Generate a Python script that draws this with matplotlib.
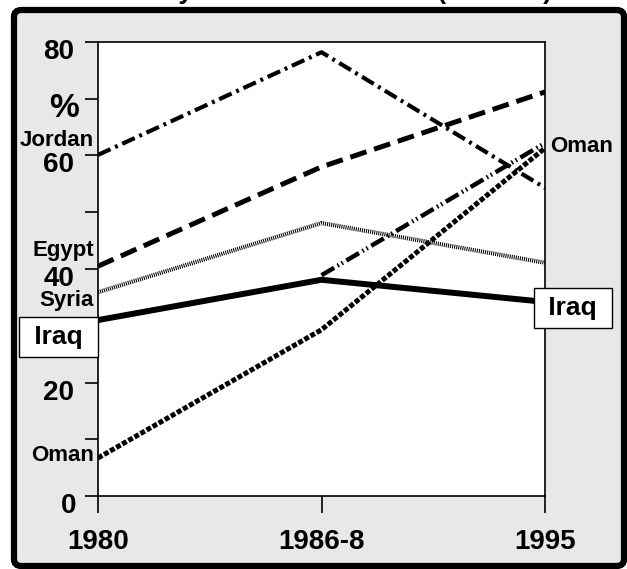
import matplotlib.pyplot as plt
import numpy as np
from matplotlib.patches import FancyBboxPatch
from matplotlib.transforms import offset_copy

plt.rcParams['font.family'] = ['Liberation Sans', 'DejaVu Sans']
plt.rcParams['font.weight'] = 'bold'

# Data (female secondary school enrollment, %)
periods = ['1980', '1986-8', '1995']
jordan = [60.1, 78.2, 54.3]
egypt = [40.5, 58.0, 71.2]
syria = [35.9, 48.1, 41.1]
iraq = [31.0, 38.1, 34.2]
oman = [6.7, 29.3, 61.3]
oman_b = [np.nan, 38.9, 62.2]
y_ticks = [0, 10, 20, 30, 40, 50, 60, 70, 80]
y_labels = {0: '0', 20: '20', 40: '40', 60: '60', 70: '%', 80: '80'}

fig = plt.figure(figsize=(6.27, 5.69), dpi=100)
fig.patch.set_facecolor('white')

# Grey rounded frame
W, H = 627, 569
frame = FancyBboxPatch((14 / W, 3 / H), 610 / W, 556 / H,
                       boxstyle='round,pad=0,rounding_size=0.012',
                       transform=fig.transFigure, facecolor='#e8e8e8',
                       edgecolor='black', linewidth=4.5, zorder=-10)
fig.patches.append(frame)

# Title, cut off at the top edge as in the original
fig.text(60 / W, 1.0 + 1 / H, 'Secondary School Enrollment (females) Gross',
         ha='left', va='baseline', fontsize=18.7, fontweight='bold')

ax = fig.add_axes([98 / W, 1 - 496 / H, 447 / W, 454 / H])
ax.set_facecolor('white')
x = np.arange(len(periods))

ax.plot(x, jordan, color='black', lw=3.0, linestyle=(0, (3.3, 1.2, 0.7, 1.2)))
ax.plot(x, egypt, color='black', lw=3.6, linestyle=(0, (3.4, 1.6)))
ax.plot(x, syria, color='black', lw=3.0, linestyle=(0, (0.25, 0.25)))
ax.plot(x, iraq, color='black', lw=4.3, solid_capstyle='butt')
ax.plot(x, oman, color='black', lw=3.6, linestyle=(0, (1.0, 0.4)))
ax.plot(x, oman_b, color='black', lw=3.2,
        linestyle=(0, (3.3, 0.9, 0.35, 0.7, 0.35, 0.9)))

ax.set_xlim(0, 2)
ax.set_ylim(0, 80)
ax.set_xticks(x)
ax.set_yticks(y_ticks)
ax.tick_params(axis='y', direction='out', length=9.4, width=1.2, labelleft=False)
ax.tick_params(axis='x', direction='out', length=12, width=1.2, labelbottom=False)
for s in ax.spines.values():
    s.set_linewidth(1.2)

# y tick labels (sit a little below their ticks)
ytr = offset_copy(ax.get_yaxis_transform(), fig=fig, x=-24, y=-10, units='dots')
for v, lab in y_labels.items():
    fs = 24 if lab == '%' else 20
    dx = 5 if lab == '%' else (2 if lab == '0' else 0)
    t = offset_copy(ytr, fig=fig, x=dx, y=0, units='dots')
    ax.text(0, v, lab, transform=t, ha='right', va='center', fontsize=fs,
            fontweight='bold')

# x tick labels
xtr = offset_copy(ax.get_xaxis_transform(), fig=fig, x=0, y=-46, units='dots')
for i, p in enumerate(periods):
    ax.text(x[i], 0, p, transform=xtr, ha='center', va='center', fontsize=20,
            fontweight='bold')

# Country labels
left_tr = offset_copy(ax.get_yaxis_transform(), fig=fig, x=-4, y=0, units='dots')
for name, yv in [('Jordan', 62.7), ('Egypt', 43.3), ('Syria', 34.5), ('Oman', 7.2)]:
    ax.text(0, yv, name, transform=left_tr, ha='right', va='center',
            fontsize=16, fontweight='bold')
right_tr = offset_copy(ax.get_yaxis_transform(), fig=fig, x=5, y=0, units='dots')
ax.text(1, 61.5, 'Oman', transform=right_tr, ha='left', va='center',
        fontsize=16, fontweight='bold')

box = dict(boxstyle='square,pad=0.3', facecolor='white', edgecolor='black', lw=1.0)
ax.text(-0.177, 28.0, ' Iraq ', ha='center', va='center', fontsize=19,
        fontweight='bold', bbox=box, clip_on=False, zorder=5)
ax.text(2.125, 33.2, ' Iraq ', ha='center', va='center', fontsize=19,
        fontweight='bold', bbox=box, clip_on=False, zorder=5)

plt.savefig('out.png', dpi=100)
